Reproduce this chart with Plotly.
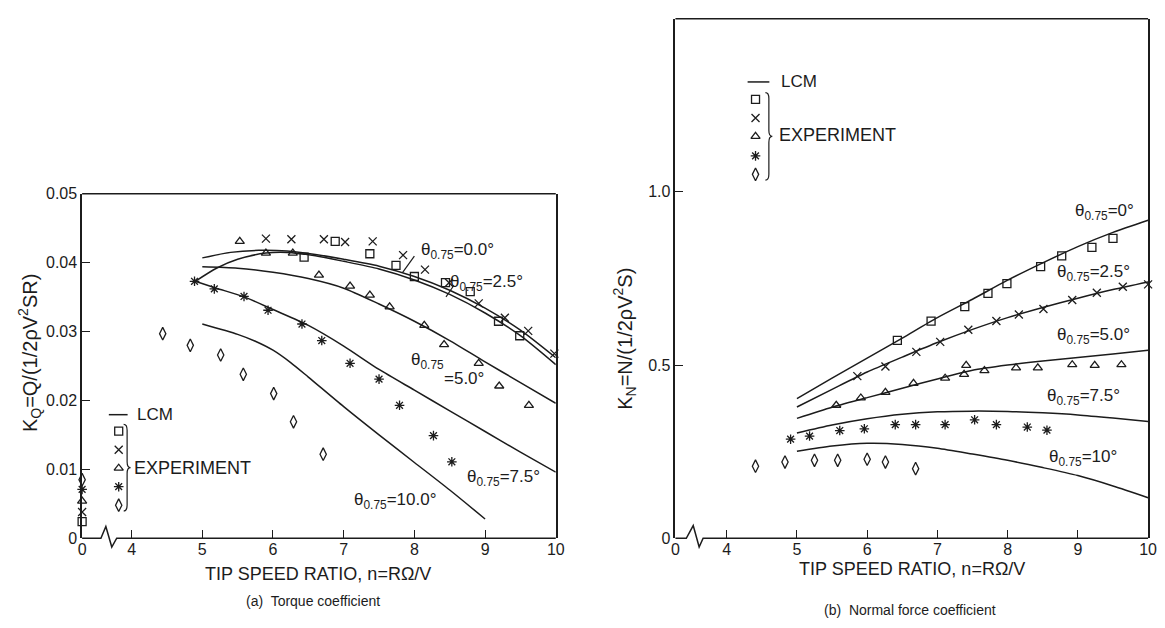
import plotly.graph_objects as go

W, H = 1165, 628
INK = '#1c1c1c'
FONT = 'Liberation Sans, Arial, Helvetica, sans-serif'

# ---------------- data: (a) torque coefficient ----------------
a_lcm_x_00 = [5.0, 5.4, 5.8, 6.2, 6.6, 7.0, 7.5, 8.0, 8.5, 9.0, 9.5, 10.0]
a_lcm_y_00 = [0.0407, 0.0415, 0.0418, 0.0417, 0.0412, 0.0405, 0.0395, 0.0380, 0.0360, 0.0334, 0.0302, 0.0262]
a_lcm_x_25 = [4.9, 5.2, 5.5, 5.9, 6.2, 6.6, 7.0, 7.5, 8.0, 8.5, 9.0, 9.5, 10.0]
a_lcm_y_25 = [0.0373, 0.0392, 0.0405, 0.0414, 0.0415, 0.0410, 0.0402, 0.0391, 0.0375, 0.0354, 0.0327, 0.0294, 0.0252]
a_lcm_x_50 = [5.0, 5.5, 6.0, 6.5, 7.0, 7.5, 8.0, 8.5, 9.0, 9.5, 10.0]
a_lcm_y_50 = [0.0394, 0.0392, 0.0386, 0.0377, 0.0363, 0.0340, 0.0315, 0.0287, 0.0256, 0.0226, 0.0196]
a_lcm_x_75 = [4.9, 5.2, 5.6, 6.0, 6.5, 7.0, 7.5, 8.0, 8.5, 9.0, 9.5, 10.0]
a_lcm_y_75 = [0.0373, 0.0363, 0.0350, 0.0332, 0.0309, 0.0279, 0.0245, 0.0215, 0.0185, 0.0155, 0.0125, 0.0096]
a_lcm_x_100 = [5.0, 5.5, 5.75, 6.0, 6.25, 6.5, 7.0, 7.5, 8.0, 8.5, 9.0]
a_lcm_y_100 = [0.0311, 0.0296, 0.0286, 0.0273, 0.0255, 0.0234, 0.0191, 0.0150, 0.0110, 0.0070, 0.0028]

a_sq_x = [6.44, 6.88, 7.37, 7.74, 8.00, 8.44, 8.79, 9.19, 9.49]
a_sq_y = [0.0408, 0.0431, 0.0413, 0.0396, 0.0380, 0.0371, 0.0358, 0.0315, 0.0294]
a_x_x = [5.90, 6.26, 6.72, 7.02, 7.41, 7.84, 8.15, 8.49, 8.91, 9.28, 9.61, 9.98]
a_x_y = [0.0435, 0.0434, 0.0434, 0.0430, 0.0431, 0.0411, 0.0390, 0.0371, 0.0341, 0.0320, 0.0301, 0.0268]
a_tri_x = [5.53, 5.90, 6.28, 6.65, 7.09, 7.37, 7.65, 8.14, 8.42, 8.91, 9.20, 9.62]
a_tri_y = [0.0431, 0.0414, 0.0414, 0.0382, 0.0366, 0.0353, 0.0336, 0.0309, 0.0281, 0.0254, 0.0221, 0.0193]
a_ast_x = [4.89, 5.17, 5.59, 5.93, 6.41, 6.69, 7.09, 7.50, 7.79, 8.27, 8.53]
a_ast_y = [0.0373, 0.0362, 0.0351, 0.0331, 0.0311, 0.0287, 0.0254, 0.0231, 0.0193, 0.0149, 0.0111]
a_dia_x = [4.44, 4.83, 5.26, 5.58, 6.01, 6.29, 6.71]
a_dia_y = [0.0297, 0.0280, 0.0266, 0.0238, 0.0210, 0.0169, 0.0122]
# static values at n = 0 (square, x, triangle, asterisk, diamond)
a_zero_y = [0.0024, 0.0038, 0.0054, 0.0071, 0.0085]

# ---------------- data: (b) normal force coefficient ----------------
b_lcm_x = [5.0, 5.5, 6.0, 6.5, 7.0, 7.5, 8.0, 8.5, 9.0, 9.5, 10.0]
b_lcm_y_00 = [0.403, 0.462, 0.520, 0.578, 0.637, 0.690, 0.745, 0.795, 0.842, 0.883, 0.918]
b_lcm_y_25 = [0.379, 0.430, 0.480, 0.523, 0.565, 0.603, 0.637, 0.666, 0.693, 0.718, 0.740]
b_lcm_y_50 = [0.346, 0.378, 0.406, 0.433, 0.460, 0.485, 0.500, 0.512, 0.522, 0.532, 0.543]
b_lcm_y_75 = [0.304, 0.327, 0.345, 0.358, 0.365, 0.367, 0.366, 0.362, 0.356, 0.347, 0.337]
b_lcm_y_100 = [0.251, 0.266, 0.274, 0.271, 0.260, 0.243, 0.225, 0.204, 0.181, 0.151, 0.117]

b_sq_x = [6.43, 6.91, 7.39, 7.72, 7.99, 8.47, 8.77, 9.20, 9.50]
b_sq_y = [0.571, 0.627, 0.669, 0.707, 0.735, 0.784, 0.815, 0.840, 0.866]
b_x_x = [5.86, 6.26, 6.70, 7.04, 7.44, 7.84, 8.16, 8.51, 8.92, 9.27, 9.64, 10.0]
b_x_y = [0.468, 0.496, 0.538, 0.567, 0.602, 0.627, 0.646, 0.662, 0.688, 0.709, 0.726, 0.733]
b_tri_x = [5.56, 5.91, 6.26, 6.66, 7.11, 7.38, 7.41, 7.67, 8.12, 8.43, 8.92, 9.24, 9.62]
b_tri_y = [0.384, 0.405, 0.421, 0.447, 0.462, 0.473, 0.499, 0.484, 0.492, 0.492, 0.501, 0.499, 0.501]
b_ast_x = [4.91, 5.18, 5.61, 5.96, 6.40, 6.69, 7.11, 7.53, 7.84, 8.28, 8.56]
b_ast_y = [0.286, 0.295, 0.311, 0.316, 0.328, 0.328, 0.328, 0.342, 0.328, 0.321, 0.312]
b_dia_x = [4.41, 4.83, 5.25, 5.58, 6.00, 6.26, 6.69]
b_dia_y = [0.208, 0.220, 0.225, 0.225, 0.228, 0.220, 0.201]

x_tick_text = ['0', '4', '5', '6', '7', '8', '9', '10']
a_y_ticks = [0, 0.01, 0.02, 0.03, 0.04, 0.05]
a_y_text = ['0', '0.01', '0.02', '0.03', '0.04', '0.05']
b_y_ticks = [0, 0.5, 1.0]
b_y_text = ['0', '0.5', '1.0']

# ---------------- geometry ----------------
A_L, A_R, A_T, A_B = 79, 558, 191, 545
B_L, B_R, B_T, B_B = 679, 1157, 11, 545
A_XR = [3.30, 10.0]
A_YR = [0, 0.05]
B_XR = [3.27, 10.0]
B_YR = [0, 1.5]
A_ZERO = A_XR[0]
B_ZERO = B_XR[0]


def px(x):
    return x / W


def py(y):
    return 1 - y / H


def a_dx(p):
    return A_XR[0] + (p - A_L) / (A_R - A_L) * (A_XR[1] - A_XR[0])


def a_dy(p):
    return A_YR[0] + (A_B - p) / (A_B - A_T) * (A_YR[1] - A_YR[0])


def b_dx(p):
    return B_XR[0] + (p - B_L) / (B_R - B_L) * (B_XR[1] - B_XR[0])


def b_dy(p):
    return B_YR[0] + (B_B - p) / (B_B - B_T) * (B_YR[1] - B_YR[0])


SYMS = ['square-open', 'x-thin-open', 'triangle-up-open', 'asterisk-open', 'diamond-tall-open']
SIZES = [8, 8, 8, 8, 9]

fig = go.Figure()


def line(x, y, xa, ya):
    fig.add_trace(go.Scatter(x=x, y=y, mode='lines', xaxis=xa, yaxis=ya,
                             line=dict(color=INK, width=1.5, shape='spline', smoothing=0.7),
                             hoverinfo='skip', showlegend=False))


def marks(x, y, k, xa, ya):
    fig.add_trace(go.Scatter(x=x, y=y, mode='markers', xaxis=xa, yaxis=ya, cliponaxis=False,
                             marker=dict(symbol=SYMS[k], size=SIZES[k], color=INK,
                                         line=dict(color=INK, width=1.3)),
                             hoverinfo='skip', showlegend=False))


# (a)
for xs, ys in [(a_lcm_x_00, a_lcm_y_00), (a_lcm_x_25, a_lcm_y_25), (a_lcm_x_50, a_lcm_y_50),
               (a_lcm_x_75, a_lcm_y_75), (a_lcm_x_100, a_lcm_y_100)]:
    line(xs, ys, 'x', 'y')
for k, (xs, ys) in enumerate([(a_sq_x, a_sq_y), (a_x_x, a_x_y), (a_tri_x, a_tri_y),
                              (a_ast_x, a_ast_y), (a_dia_x, a_dia_y)]):
    marks(xs, ys, k, 'x', 'y')
    marks([A_ZERO], [a_zero_y[k]], k, 'x', 'y')

# (b)
for ys in [b_lcm_y_00, b_lcm_y_25, b_lcm_y_50, b_lcm_y_75, b_lcm_y_100]:
    line(b_lcm_x, ys, 'x2', 'y2')
for k, (xs, ys) in enumerate([(b_sq_x, b_sq_y), (b_x_x, b_x_y), (b_tri_x, b_tri_y),
                              (b_ast_x, b_ast_y), (b_dia_x, b_dia_y)]):
    marks(xs, ys, k, 'x2', 'y2')

# legend sample markers (key), placed through the axes
A_KEY_X, A_KEY_Y = 116, [435, 454, 473, 492, 511]
B_KEY_X, B_KEY_Y = 760, [94, 113, 132, 152, 171]
for k in range(5):
    marks([a_dx(A_KEY_X)], [a_dy(A_KEY_Y[k])], k, 'x', 'y')
    marks([b_dx(B_KEY_X)], [b_dy(B_KEY_Y[k])], k, 'x2', 'y2')

axis_common = dict(showgrid=False, zeroline=False, ticks='inside', ticklen=8, tickwidth=1.2,
                   tickcolor=INK, tickfont=dict(family=FONT, size=16, color=INK))

fig.update_layout(
    width=W, height=H, margin=dict(l=0, r=0, t=0, b=0),
    paper_bgcolor='white', plot_bgcolor='white', showlegend=False,
    xaxis=dict(domain=[px(A_L), px(A_R)], range=A_XR, anchor='y', showline=False,
               tickvals=[A_ZERO, 4, 5, 6, 7, 8, 9, 10], ticktext=x_tick_text, **axis_common),
    yaxis=dict(domain=[py(A_B), py(A_T)], range=A_YR, anchor='x', showline=True, mirror=True,
               linecolor=INK, linewidth=1.5, tickvals=a_y_ticks, ticktext=a_y_text, **axis_common),
    xaxis2=dict(domain=[px(B_L), px(B_R)], range=B_XR, anchor='y2', showline=False,
                tickvals=[B_ZERO, 4, 5, 6, 7, 8, 9, 10], ticktext=x_tick_text, **axis_common),
    yaxis2=dict(domain=[py(B_B), py(B_T)], range=B_YR, anchor='x2', showline=True, mirror=True,
                linecolor=INK, linewidth=1.5, tickvals=b_y_ticks, ticktext=b_y_text, **axis_common),
)


def ppath(pts):
    return 'M ' + ' L '.join(f'{px(x):.5f},{py(y):.5f}' for x, y in pts)


def brace(x, yt, yb, w):
    ym = (yt + yb) / 2
    r = 6
    xm = x + w / 2
    s = (f'M {px(x):.5f},{py(yt):.5f} Q {px(xm):.5f},{py(yt):.5f} {px(xm):.5f},{py(yt + r):.5f} '
         f'L {px(xm):.5f},{py(ym - r):.5f} Q {px(xm):.5f},{py(ym):.5f} {px(x + w):.5f},{py(ym):.5f} '
         f'Q {px(xm):.5f},{py(ym):.5f} {px(xm):.5f},{py(ym + r):.5f} '
         f'L {px(xm):.5f},{py(yb - r):.5f} Q {px(xm):.5f},{py(yb):.5f} {px(x):.5f},{py(yb):.5f}')
    return s


shapes = []
LS = dict(color=INK, width=1.5)
# bottom axes with break symbol
shapes.append(dict(type='path', xref='paper', yref='paper', line=LS,
                   path=ppath([(A_L, A_B), (98, A_B), (103, 533), (109, 554), (114, A_B), (A_R, A_B)])))
shapes.append(dict(type='path', xref='paper', yref='paper', line=LS,
                   path=ppath([(B_L, B_B), (690, B_B), (697, 532), (703, 554), (707, B_B), (B_R, B_B)])))
# top frame lines
shapes.append(dict(type='line', xref='paper', yref='paper', x0=px(A_L), x1=px(A_R), y0=py(A_T), y1=py(A_T), line=LS))
shapes.append(dict(type='line', xref='paper', yref='paper', x0=px(B_L), x1=px(B_R), y0=py(B_T), y1=py(B_T), line=LS))
# legend line keys
shapes.append(dict(type='line', xref='paper', yref='paper', x0=px(106), x1=px(125), y0=py(418), y1=py(418), line=LS))
shapes.append(dict(type='line', xref='paper', yref='paper', x0=px(752), x1=px(774), y0=py(76), y1=py(76), line=LS))
# braces
shapes.append(dict(type='path', xref='paper', yref='paper', line=dict(color=INK, width=1.2),
                   path=brace(121, 428, 517, 7)))
shapes.append(dict(type='path', xref='paper', yref='paper', line=dict(color=INK, width=1.2),
                   path=brace(770, 87, 177, 7)))
# leader ticks for labels
shapes.append(dict(type='line', xref='paper', yref='paper', x0=px(403), y0=py(272), x1=px(415), y1=py(255), line=dict(color=INK, width=1.2)))
shapes.append(dict(type='line', xref='paper', yref='paper', x0=px(447), y0=py(297), x1=px(455), y1=py(285), line=dict(color=INK, width=1.2)))
fig.update_layout(shapes=shapes)

ann = []


def text(x, y, t, size=17, xanchor='left', angle=0):
    ann.append(dict(x=px(x), y=py(y), xref='paper', yref='paper', text=t, showarrow=False,
                    xanchor=xanchor, yanchor='middle', textangle=angle,
                    font=dict(family=FONT, size=size, color=INK)))


TH = 'θ<sub>0.75</sub>'
# (a) curve labels
text(420, 250, TH + '=0.0°')
text(449, 283, TH + '=2.5°')
text(410, 363, TH)
text(443, 381, '=5.0°')
text(466, 483, TH + '=7.5°')
text(352, 507, TH + '=10.0°')
# (b) curve labels
text(1081, 210, TH + '=0°')
text(1063, 272, TH + '=2.5°')
text(1063, 337, TH + '=5.0°')
text(1053, 400, TH + '=7.5°')
text(1055, 463, TH + '=10°')
# legends
text(132, 418, 'LCM', size=17)
text(129, 473, 'EXPERIMENT', size=18)
text(784, 76, 'LCM', size=17)
text(782, 131, 'EXPERIMENT', size=18)
# axis titles
text(318, 582, 'TIP SPEED RATIO, n=RΩ/V', size=18, xanchor='center')
text(918, 577, 'TIP SPEED RATIO, n=RΩ/V', size=18, xanchor='center')
text(312, 609, '(a)  Torque coefficient', size=14, xanchor='center')
text(916, 619, '(b)  Normal force coefficient', size=14, xanchor='center')
text(26, 355, 'K<sub>Q</sub>=Q/(1/2ρV<sup>2</sup>SR)', size=20, xanchor='center', angle=-90)
text(628, 340, 'K<sub>N</sub>=N/(1/2ρV<sup>2</sup>S)', size=20, xanchor='center', angle=-90)
fig.update_layout(annotations=ann)

fig.write_html('out.html')
